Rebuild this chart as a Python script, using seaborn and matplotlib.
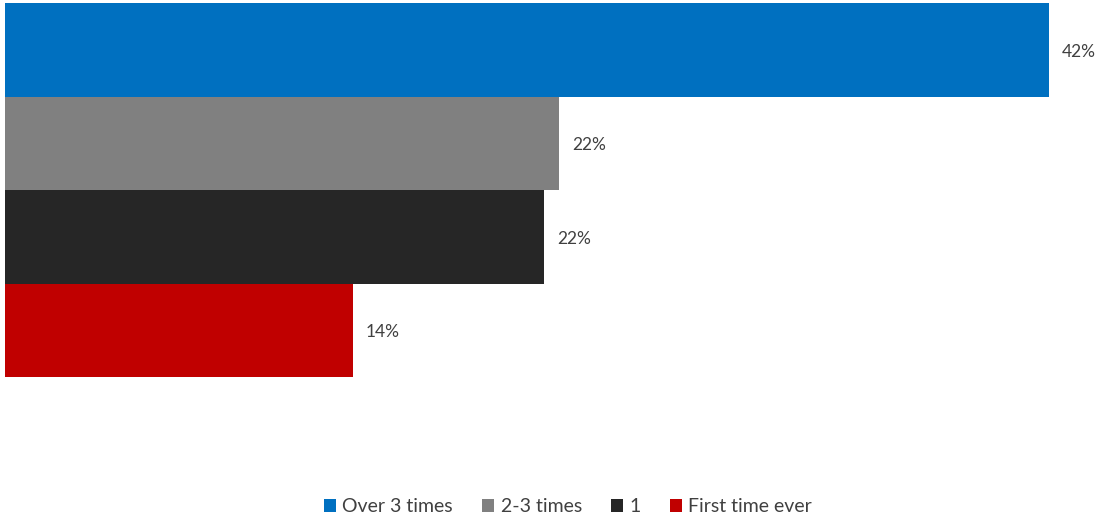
import matplotlib
matplotlib.use("Agg")
import matplotlib.pyplot as plt
from matplotlib.patches import Patch
import seaborn as sns
import pandas as pd

categories = ["Over 3 times", "2-3 times", "1", "First time ever"]
values = [42.0, 22.3, 21.7, 14.0]
labels = ["42%", "22%", "22%", "14%"]
colors = ["#0070C0", "#808080", "#262626", "#C00000"]

sns.set_theme(style="white")
plt.rcParams["font.family"] = ["Lato", "DejaVu Sans"]

df = pd.DataFrame({"category": categories, "value": values})

fig = plt.figure(figsize=(10.97, 5.16), dpi=100)
ax = fig.add_axes([5 / 1097, 1 - 377 / 516, (1049 - 5) / 1097, (377 - 3) / 516])
sns.barplot(data=df, x="value", y="category", hue="category", order=categories,
            hue_order=categories, palette=colors, width=1.0, dodge=False,
            legend=False, ax=ax, saturation=1, linewidth=0)
ax.set_xlim(0, 42)
ax.set_ylim(3.5, -0.5)
ax.axis("off")

for i, (v, lab) in enumerate(zip(values, labels)):
    ax.annotate(lab, xy=(v, i), xytext=(13, -2), textcoords="offset pixels",
                ha="left", va="center", fontsize=12.5, color="#404040",
                annotation_clip=False)

handles = [Patch(facecolor=c, edgecolor="none") for c in colors]
fig.legend(handles, categories, loc="center", bbox_to_anchor=(568 / 1097, 1 - 507 / 516),
           ncol=4, frameon=False, fontsize=14, handlelength=0.6, handleheight=0.6,
           handletextpad=0.35, columnspacing=1.5, labelcolor="#404040")

fig.savefig("out.png", dpi=100)
